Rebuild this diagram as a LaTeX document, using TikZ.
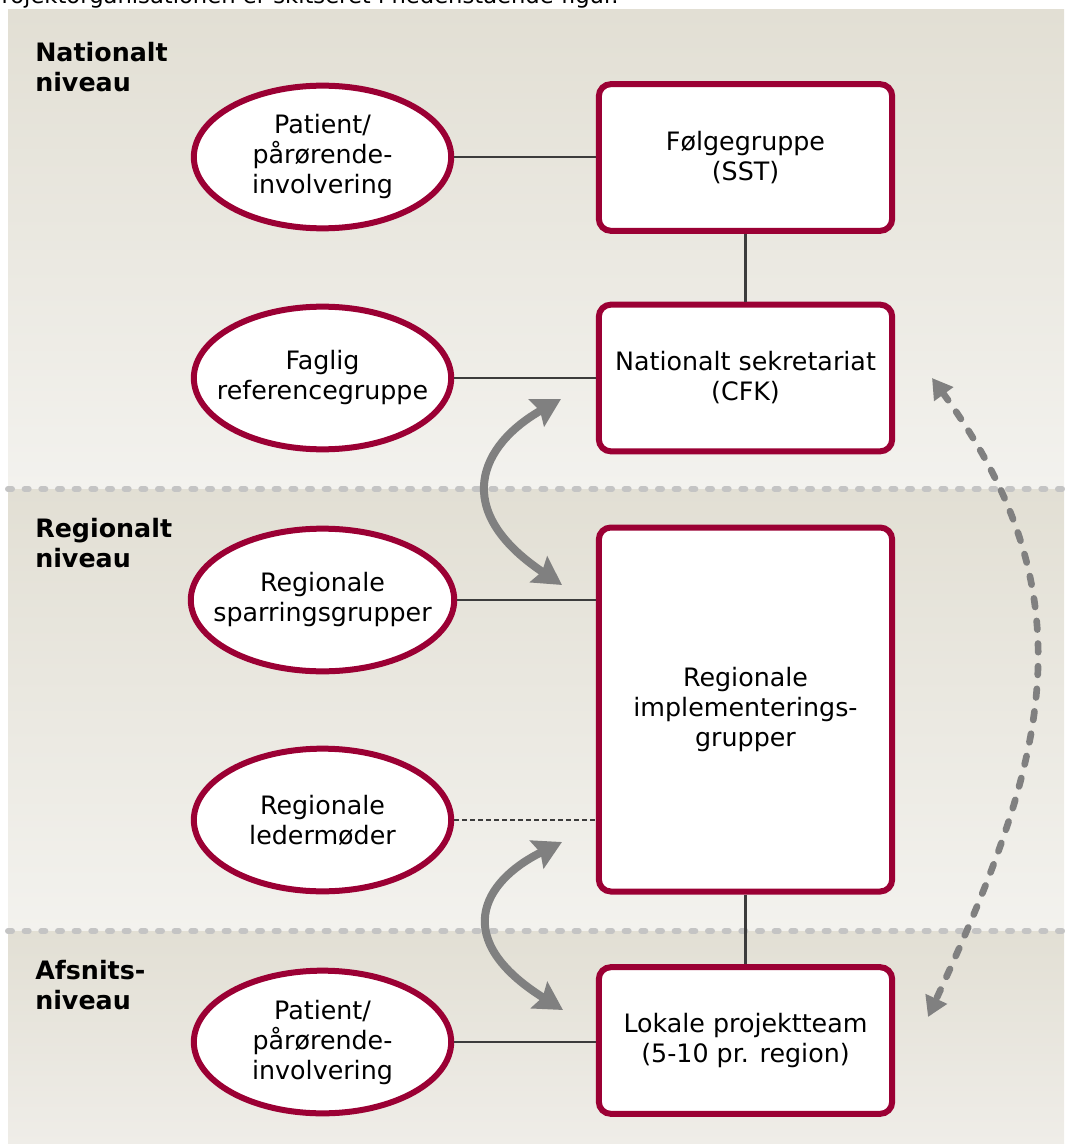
\documentclass[tikz,border=0pt]{standalone}
\usepackage{fontspec}
\setmainfont{DejaVu Sans}
\usetikzlibrary{shapes.geometric,arrows.meta}

\definecolor{crim}{RGB}{155,0,52}
\definecolor{bandtop}{RGB}{226,223,212}
\definecolor{bandbot}{RGB}{243,242,238}
\definecolor{bandbotlow}{RGB}{239,237,232}
\definecolor{sepgray}{RGB}{196,196,196}
\definecolor{arrgray}{RGB}{128,128,128}
\definecolor{linkgray}{RGB}{60,60,60}

\tikzset{
  txt/.style={font=\fontsize{19pt}{22.5pt}\selectfont, align=center, text=black},
  oval/.style={txt, ellipse, draw=crim, fill=white, line width=4.5pt,
               minimum width=193pt, minimum height=107pt,
               inner xsep=-12pt, inner ysep=0pt},
  card/.style={txt, rectangle, rounded corners=9pt, draw=crim, fill=white,
               line width=4.5pt, minimum width=220pt, inner sep=0pt},
  level/.style={font=\bfseries\fontsize{19pt}{22.5pt}\selectfont, align=left,
                anchor=base west, inner sep=0pt},
  link/.style={draw=linkgray, line width=2.2pt},
  dottedlink/.style={link, dash pattern=on 3.5pt off 2.5pt},
  separator/.style={draw=sepgray, line width=4.5pt, line cap=round,
                    dash pattern=on 3pt off 9.5pt},
  swaparrow/.style={draw=arrgray, line width=6pt,
                    {Stealth[length=21pt,width=23pt,inset=3pt]}-{Stealth[length=21pt,width=23pt,inset=3pt]}},
  feedback/.style={draw=arrgray, line width=5pt, line cap=round,
                   dash pattern=on 6.5pt off 10.5pt,
                   {Triangle[length=15pt,width=17pt]}-{Triangle[length=15pt,width=17pt]}}
}

\begin{document}
\begin{tikzpicture}[x=0.75pt,y=-0.75pt]
\useasboundingbox (0,0) rectangle (1064,1144);

% running text above the figure
\node[anchor=base west, inner sep=0pt, font=\fontsize{17pt}{20pt}\selectfont] (intro) at (-12,4)
  {Projektorganisationen er skitseret i nedenstående figur.};

% level bands
\shade[top color=bandtop, bottom color=bandbot] (8,10) rectangle (1064,489);
\shade[top color=bandtop, bottom color=bandbot] (8,489) rectangle (1064,931);
\shade[top color=bandtop, bottom color=bandbotlow] (8,931) rectangle (1064,1144);

\coordinate (s1l) at (8,489);   \coordinate (s1r) at (1064,489);
\coordinate (s2l) at (8,931);   \coordinate (s2r) at (1064,931);
\draw[separator] (s1l) -- (s1r);
\draw[separator] (s2l) -- (s2r);

% level labels
\node[level] (lnat) at (35,92)   {Nationalt\\niveau};
\node[level] (lreg) at (35,567)  {Regionalt\\niveau};
\node[level] (lafs) at (35,1009) {Afsnits-\\niveau};

% groups (ovals)
\node[oval] (e1) at (322.5,157) {Patient/\\pårørende-\\involvering};
\node[oval] (e2) at (322.5,378) {Faglig\\referencegruppe};
\node[oval] (e3) at (322.5,600) {Regionale\\sparringsgrupper};
\node[oval] (e4) at (322.5,820) {Regionale\\ledermøder};
\node[oval] (e5) at (322.5,1042) {Patient/\\pårørende-\\involvering};

% bodies (boxes)
\node[card, minimum height=110pt] (b1) at (745.5,157.5) {Følgegruppe\\(SST)};
\node[card, minimum height=110pt] (b2) at (745.5,378) {Nationalt sekretariat\\(CFK)};
\node[card, minimum height=273pt] (b3) at (745.5,709.5) {Regionale\\implementerings-\\grupper};
\node[card, minimum height=110pt] (b4) at (745.5,1040.5) {Lokale projektteam\\(5-10 pr. region)};

% connections
\draw[link] (e1.east) -- (e1.east -| b1.west);
\draw[link] (e2.east) -- (e2.east -| b2.west);
\draw[link] (e3.east) -- (e3.east -| b3.west);
\draw[dottedlink] (e4.east) -- (e4.east -| b3.west);
\draw[link] (e5.east) -- (e5.east -| b4.west);
\draw[link] (b1.south) -- (b2.north);
\draw[link] (b3.south) -- (b4.north);

% exchange between levels
\coordinate (a1t) at (561,399);  \coordinate (a1b) at (562,585);
\coordinate (a2t) at (562,842);  \coordinate (a2b) at (563,1010);
\draw[swaparrow] (a1t) .. controls (480,445) and (450,510) .. (a1b);
\draw[swaparrow] (a2t) .. controls (481,882) and (451,940) .. (a2b);

% feedback between national and local level
\coordinate (ft) at (932,378);  \coordinate (fb) at (928,1017);
\draw[feedback] (ft) .. controls (1095,602) and (1044,765) .. (fb);
\end{tikzpicture}
\end{document}
